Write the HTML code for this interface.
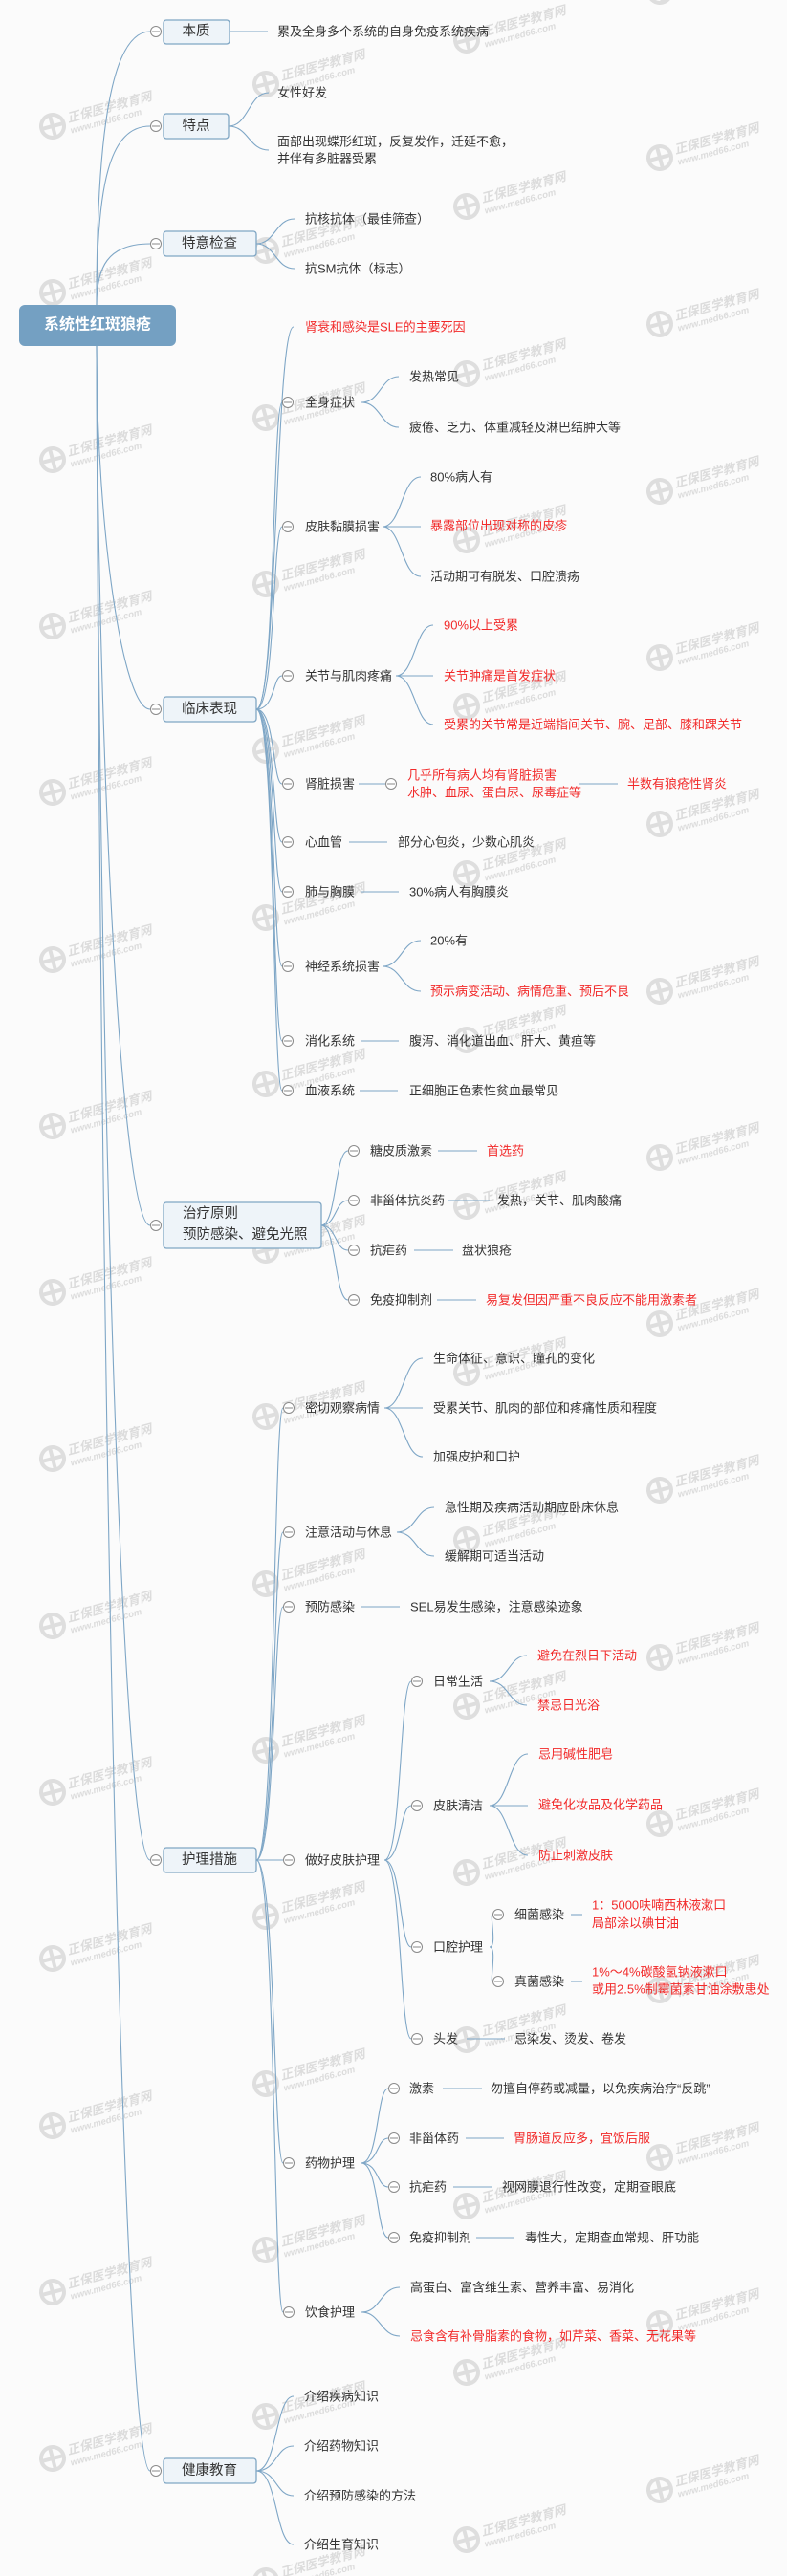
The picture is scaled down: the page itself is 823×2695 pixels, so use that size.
<!DOCTYPE html>
<html><head><meta charset="utf-8">
<style>
html,body{margin:0;padding:0;background:#fbfbfb;}
svg{display:block;}
text{font-family:"Liberation Sans","Noto Sans CJK SC",sans-serif;font-size:13px;fill:#333;dominant-baseline:central;}
.r{fill:#f22a2a;}
.bx{fill:#eef4f9;stroke:#7fa6c4;stroke-width:1.3;}
.bt{font-size:14.5px;text-anchor:middle;}
.ln{fill:none;stroke:#7ea6c6;stroke-width:1.1;}
.c{fill:#fff;stroke:#8a8a8a;stroke-width:1;}
.wm circle{fill:none;stroke:#dedede;stroke-width:4;}
.wm path{stroke:#dedede;stroke-width:4;fill:none;}
.wm text{fill:#dcdcdc;font-weight:bold;font-style:italic;}
.wm .w1{font-size:13px;}
.wm .w2{font-size:9.5px;}
</style></head>
<body>
<svg width="823" height="2695" viewBox="0 0 823 2695" xmlns="http://www.w3.org/2000/svg">
<defs></defs>
<!-- watermarks -->
<g class="wm">
<g transform="translate(55,132) rotate(-15)"><circle r="12"/><path d="M-12 0H12M0 -12V12"/><text class="w1" x="17" y="-4">正保医学教育网</text><text class="w2" x="17" y="10">www.med66.com</text></g>
<g transform="translate(55,306) rotate(-15)"><circle r="12"/><path d="M-12 0H12M0 -12V12"/><text class="w1" x="17" y="-4">正保医学教育网</text><text class="w2" x="17" y="10">www.med66.com</text></g>
<g transform="translate(55,481) rotate(-15)"><circle r="12"/><path d="M-12 0H12M0 -12V12"/><text class="w1" x="17" y="-4">正保医学教育网</text><text class="w2" x="17" y="10">www.med66.com</text></g>
<g transform="translate(55,655) rotate(-15)"><circle r="12"/><path d="M-12 0H12M0 -12V12"/><text class="w1" x="17" y="-4">正保医学教育网</text><text class="w2" x="17" y="10">www.med66.com</text></g>
<g transform="translate(55,829) rotate(-15)"><circle r="12"/><path d="M-12 0H12M0 -12V12"/><text class="w1" x="17" y="-4">正保医学教育网</text><text class="w2" x="17" y="10">www.med66.com</text></g>
<g transform="translate(55,1004) rotate(-15)"><circle r="12"/><path d="M-12 0H12M0 -12V12"/><text class="w1" x="17" y="-4">正保医学教育网</text><text class="w2" x="17" y="10">www.med66.com</text></g>
<g transform="translate(55,1178) rotate(-15)"><circle r="12"/><path d="M-12 0H12M0 -12V12"/><text class="w1" x="17" y="-4">正保医学教育网</text><text class="w2" x="17" y="10">www.med66.com</text></g>
<g transform="translate(55,1352) rotate(-15)"><circle r="12"/><path d="M-12 0H12M0 -12V12"/><text class="w1" x="17" y="-4">正保医学教育网</text><text class="w2" x="17" y="10">www.med66.com</text></g>
<g transform="translate(55,1526) rotate(-15)"><circle r="12"/><path d="M-12 0H12M0 -12V12"/><text class="w1" x="17" y="-4">正保医学教育网</text><text class="w2" x="17" y="10">www.med66.com</text></g>
<g transform="translate(55,1701) rotate(-15)"><circle r="12"/><path d="M-12 0H12M0 -12V12"/><text class="w1" x="17" y="-4">正保医学教育网</text><text class="w2" x="17" y="10">www.med66.com</text></g>
<g transform="translate(55,1875) rotate(-15)"><circle r="12"/><path d="M-12 0H12M0 -12V12"/><text class="w1" x="17" y="-4">正保医学教育网</text><text class="w2" x="17" y="10">www.med66.com</text></g>
<g transform="translate(55,2049) rotate(-15)"><circle r="12"/><path d="M-12 0H12M0 -12V12"/><text class="w1" x="17" y="-4">正保医学教育网</text><text class="w2" x="17" y="10">www.med66.com</text></g>
<g transform="translate(55,2224) rotate(-15)"><circle r="12"/><path d="M-12 0H12M0 -12V12"/><text class="w1" x="17" y="-4">正保医学教育网</text><text class="w2" x="17" y="10">www.med66.com</text></g>
<g transform="translate(55,2398) rotate(-15)"><circle r="12"/><path d="M-12 0H12M0 -12V12"/><text class="w1" x="17" y="-4">正保医学教育网</text><text class="w2" x="17" y="10">www.med66.com</text></g>
<g transform="translate(55,2572) rotate(-15)"><circle r="12"/><path d="M-12 0H12M0 -12V12"/><text class="w1" x="17" y="-4">正保医学教育网</text><text class="w2" x="17" y="10">www.med66.com</text></g>

<g transform="translate(278,88) rotate(-15)"><circle r="12"/><path d="M-12 0H12M0 -12V12"/><text class="w1" x="17" y="-4">正保医学教育网</text><text class="w2" x="17" y="10">www.med66.com</text></g>
<g transform="translate(278,262) rotate(-15)"><circle r="12"/><path d="M-12 0H12M0 -12V12"/><text class="w1" x="17" y="-4">正保医学教育网</text><text class="w2" x="17" y="10">www.med66.com</text></g>
<g transform="translate(278,437) rotate(-15)"><circle r="12"/><path d="M-12 0H12M0 -12V12"/><text class="w1" x="17" y="-4">正保医学教育网</text><text class="w2" x="17" y="10">www.med66.com</text></g>
<g transform="translate(278,611) rotate(-15)"><circle r="12"/><path d="M-12 0H12M0 -12V12"/><text class="w1" x="17" y="-4">正保医学教育网</text><text class="w2" x="17" y="10">www.med66.com</text></g>
<g transform="translate(278,785) rotate(-15)"><circle r="12"/><path d="M-12 0H12M0 -12V12"/><text class="w1" x="17" y="-4">正保医学教育网</text><text class="w2" x="17" y="10">www.med66.com</text></g>
<g transform="translate(278,960) rotate(-15)"><circle r="12"/><path d="M-12 0H12M0 -12V12"/><text class="w1" x="17" y="-4">正保医学教育网</text><text class="w2" x="17" y="10">www.med66.com</text></g>
<g transform="translate(278,1134) rotate(-15)"><circle r="12"/><path d="M-12 0H12M0 -12V12"/><text class="w1" x="17" y="-4">正保医学教育网</text><text class="w2" x="17" y="10">www.med66.com</text></g>
<g transform="translate(278,1308) rotate(-15)"><circle r="12"/><path d="M-12 0H12M0 -12V12"/><text class="w1" x="17" y="-4">正保医学教育网</text><text class="w2" x="17" y="10">www.med66.com</text></g>
<g transform="translate(278,1482) rotate(-15)"><circle r="12"/><path d="M-12 0H12M0 -12V12"/><text class="w1" x="17" y="-4">正保医学教育网</text><text class="w2" x="17" y="10">www.med66.com</text></g>
<g transform="translate(278,1657) rotate(-15)"><circle r="12"/><path d="M-12 0H12M0 -12V12"/><text class="w1" x="17" y="-4">正保医学教育网</text><text class="w2" x="17" y="10">www.med66.com</text></g>
<g transform="translate(278,1831) rotate(-15)"><circle r="12"/><path d="M-12 0H12M0 -12V12"/><text class="w1" x="17" y="-4">正保医学教育网</text><text class="w2" x="17" y="10">www.med66.com</text></g>
<g transform="translate(278,2005) rotate(-15)"><circle r="12"/><path d="M-12 0H12M0 -12V12"/><text class="w1" x="17" y="-4">正保医学教育网</text><text class="w2" x="17" y="10">www.med66.com</text></g>
<g transform="translate(278,2180) rotate(-15)"><circle r="12"/><path d="M-12 0H12M0 -12V12"/><text class="w1" x="17" y="-4">正保医学教育网</text><text class="w2" x="17" y="10">www.med66.com</text></g>
<g transform="translate(278,2354) rotate(-15)"><circle r="12"/><path d="M-12 0H12M0 -12V12"/><text class="w1" x="17" y="-4">正保医学教育网</text><text class="w2" x="17" y="10">www.med66.com</text></g>
<g transform="translate(278,2528) rotate(-15)"><circle r="12"/><path d="M-12 0H12M0 -12V12"/><text class="w1" x="17" y="-4">正保医学教育网</text><text class="w2" x="17" y="10">www.med66.com</text></g>
<g transform="translate(278,2700) rotate(-15)"><circle r="12"/><path d="M-12 0H12M0 -12V12"/><text class="w1" x="17" y="-4">正保医学教育网</text><text class="w2" x="17" y="10">www.med66.com</text></g>

<g transform="translate(488,42) rotate(-15)"><circle r="12"/><path d="M-12 0H12M0 -12V12"/><text class="w1" x="17" y="-4">正保医学教育网</text><text class="w2" x="17" y="10">www.med66.com</text></g>
<g transform="translate(488,216) rotate(-15)"><circle r="12"/><path d="M-12 0H12M0 -12V12"/><text class="w1" x="17" y="-4">正保医学教育网</text><text class="w2" x="17" y="10">www.med66.com</text></g>
<g transform="translate(488,391) rotate(-15)"><circle r="12"/><path d="M-12 0H12M0 -12V12"/><text class="w1" x="17" y="-4">正保医学教育网</text><text class="w2" x="17" y="10">www.med66.com</text></g>
<g transform="translate(488,565) rotate(-15)"><circle r="12"/><path d="M-12 0H12M0 -12V12"/><text class="w1" x="17" y="-4">正保医学教育网</text><text class="w2" x="17" y="10">www.med66.com</text></g>
<g transform="translate(488,739) rotate(-15)"><circle r="12"/><path d="M-12 0H12M0 -12V12"/><text class="w1" x="17" y="-4">正保医学教育网</text><text class="w2" x="17" y="10">www.med66.com</text></g>
<g transform="translate(488,914) rotate(-15)"><circle r="12"/><path d="M-12 0H12M0 -12V12"/><text class="w1" x="17" y="-4">正保医学教育网</text><text class="w2" x="17" y="10">www.med66.com</text></g>
<g transform="translate(488,1088) rotate(-15)"><circle r="12"/><path d="M-12 0H12M0 -12V12"/><text class="w1" x="17" y="-4">正保医学教育网</text><text class="w2" x="17" y="10">www.med66.com</text></g>
<g transform="translate(488,1262) rotate(-15)"><circle r="12"/><path d="M-12 0H12M0 -12V12"/><text class="w1" x="17" y="-4">正保医学教育网</text><text class="w2" x="17" y="10">www.med66.com</text></g>
<g transform="translate(488,1436) rotate(-15)"><circle r="12"/><path d="M-12 0H12M0 -12V12"/><text class="w1" x="17" y="-4">正保医学教育网</text><text class="w2" x="17" y="10">www.med66.com</text></g>
<g transform="translate(488,1611) rotate(-15)"><circle r="12"/><path d="M-12 0H12M0 -12V12"/><text class="w1" x="17" y="-4">正保医学教育网</text><text class="w2" x="17" y="10">www.med66.com</text></g>
<g transform="translate(488,1785) rotate(-15)"><circle r="12"/><path d="M-12 0H12M0 -12V12"/><text class="w1" x="17" y="-4">正保医学教育网</text><text class="w2" x="17" y="10">www.med66.com</text></g>
<g transform="translate(488,1959) rotate(-15)"><circle r="12"/><path d="M-12 0H12M0 -12V12"/><text class="w1" x="17" y="-4">正保医学教育网</text><text class="w2" x="17" y="10">www.med66.com</text></g>
<g transform="translate(488,2134) rotate(-15)"><circle r="12"/><path d="M-12 0H12M0 -12V12"/><text class="w1" x="17" y="-4">正保医学教育网</text><text class="w2" x="17" y="10">www.med66.com</text></g>
<g transform="translate(488,2308) rotate(-15)"><circle r="12"/><path d="M-12 0H12M0 -12V12"/><text class="w1" x="17" y="-4">正保医学教育网</text><text class="w2" x="17" y="10">www.med66.com</text></g>
<g transform="translate(488,2482) rotate(-15)"><circle r="12"/><path d="M-12 0H12M0 -12V12"/><text class="w1" x="17" y="-4">正保医学教育网</text><text class="w2" x="17" y="10">www.med66.com</text></g>
<g transform="translate(488,2657) rotate(-15)"><circle r="12"/><path d="M-12 0H12M0 -12V12"/><text class="w1" x="17" y="-4">正保医学教育网</text><text class="w2" x="17" y="10">www.med66.com</text></g>

<g transform="translate(690,-9) rotate(-15)"><circle r="12"/><path d="M-12 0H12M0 -12V12"/><text class="w1" x="17" y="-4">正保医学教育网</text><text class="w2" x="17" y="10">www.med66.com</text></g>
<g transform="translate(690,165) rotate(-15)"><circle r="12"/><path d="M-12 0H12M0 -12V12"/><text class="w1" x="17" y="-4">正保医学教育网</text><text class="w2" x="17" y="10">www.med66.com</text></g>
<g transform="translate(690,339) rotate(-15)"><circle r="12"/><path d="M-12 0H12M0 -12V12"/><text class="w1" x="17" y="-4">正保医学教育网</text><text class="w2" x="17" y="10">www.med66.com</text></g>
<g transform="translate(690,514) rotate(-15)"><circle r="12"/><path d="M-12 0H12M0 -12V12"/><text class="w1" x="17" y="-4">正保医学教育网</text><text class="w2" x="17" y="10">www.med66.com</text></g>
<g transform="translate(690,688) rotate(-15)"><circle r="12"/><path d="M-12 0H12M0 -12V12"/><text class="w1" x="17" y="-4">正保医学教育网</text><text class="w2" x="17" y="10">www.med66.com</text></g>
<g transform="translate(690,862) rotate(-15)"><circle r="12"/><path d="M-12 0H12M0 -12V12"/><text class="w1" x="17" y="-4">正保医学教育网</text><text class="w2" x="17" y="10">www.med66.com</text></g>
<g transform="translate(690,1037) rotate(-15)"><circle r="12"/><path d="M-12 0H12M0 -12V12"/><text class="w1" x="17" y="-4">正保医学教育网</text><text class="w2" x="17" y="10">www.med66.com</text></g>
<g transform="translate(690,1211) rotate(-15)"><circle r="12"/><path d="M-12 0H12M0 -12V12"/><text class="w1" x="17" y="-4">正保医学教育网</text><text class="w2" x="17" y="10">www.med66.com</text></g>
<g transform="translate(690,1385) rotate(-15)"><circle r="12"/><path d="M-12 0H12M0 -12V12"/><text class="w1" x="17" y="-4">正保医学教育网</text><text class="w2" x="17" y="10">www.med66.com</text></g>
<g transform="translate(690,1559) rotate(-15)"><circle r="12"/><path d="M-12 0H12M0 -12V12"/><text class="w1" x="17" y="-4">正保医学教育网</text><text class="w2" x="17" y="10">www.med66.com</text></g>
<g transform="translate(690,1734) rotate(-15)"><circle r="12"/><path d="M-12 0H12M0 -12V12"/><text class="w1" x="17" y="-4">正保医学教育网</text><text class="w2" x="17" y="10">www.med66.com</text></g>
<g transform="translate(690,1908) rotate(-15)"><circle r="12"/><path d="M-12 0H12M0 -12V12"/><text class="w1" x="17" y="-4">正保医学教育网</text><text class="w2" x="17" y="10">www.med66.com</text></g>
<g transform="translate(690,2082) rotate(-15)"><circle r="12"/><path d="M-12 0H12M0 -12V12"/><text class="w1" x="17" y="-4">正保医学教育网</text><text class="w2" x="17" y="10">www.med66.com</text></g>
<g transform="translate(690,2257) rotate(-15)"><circle r="12"/><path d="M-12 0H12M0 -12V12"/><text class="w1" x="17" y="-4">正保医学教育网</text><text class="w2" x="17" y="10">www.med66.com</text></g>
<g transform="translate(690,2431) rotate(-15)"><circle r="12"/><path d="M-12 0H12M0 -12V12"/><text class="w1" x="17" y="-4">正保医学教育网</text><text class="w2" x="17" y="10">www.med66.com</text></g>
<g transform="translate(690,2605) rotate(-15)"><circle r="12"/><path d="M-12 0H12M0 -12V12"/><text class="w1" x="17" y="-4">正保医学教育网</text><text class="w2" x="17" y="10">www.med66.com</text></g>
</g>

<!-- root connectors -->
<g class="ln">
<path d="M101 319 C101 130 118 33 157 33"/>
<path d="M101 319 C101 190 115 132 157 132"/>
<path d="M101 319 C101 280 112 255 157 255"/>
<path d="M101 362 C101 552 128 742 157 742"/>
<path d="M101 362 C103 822 128 1282 157 1282"/>
<path d="M101 362 C104 1154 128 1946 157 1946"/>
<path d="M101 362 C105 1474 128 2585 157 2585"/>
</g>

<!-- root -->
<rect x="20" y="319" width="164" height="43" rx="6" fill="#74a0c2"/>
<text x="102" y="340" style="fill:#fff;font-weight:bold;font-size:16px;text-anchor:middle;">系统性红斑狼疮</text>

<!-- 本质 -->
<rect class="bx" x="171" y="21" width="69" height="25" rx="3"/>
<text class="bt" x="205" y="33">本质</text>
<path class="ln" d="M240 33 H280"/>
<text x="290" y="33">累及全身多个系统的自身免疫系统疾病</text>

<!-- 特点 -->
<rect class="bx" x="171" y="119" width="68" height="26" rx="3"/>
<text class="bt" x="205" y="132">特点</text>
<g class="ln">
<path d="M239 132 C260 132 260 97 281 97"/>
<path d="M239 132 C260 132 260 157 281 157"/>
</g>
<text x="290" y="97">女性好发</text>
<text x="290" y="148">面部出现蝶形红斑，反复发作，迁延不愈，</text>
<text x="290" y="166">并伴有多脏器受累</text>

<!-- 特意检查 -->
<rect class="bx" x="171" y="242" width="97" height="26" rx="3"/>
<text class="bt" x="219" y="255">特意检查</text>
<g class="ln">
<path d="M268 255 C288 255 288 229 308 229"/>
<path d="M268 255 C288 255 288 281 308 281"/>
</g>
<text x="319" y="229">抗核抗体（最佳筛查）</text>
<text x="319" y="281">抗SM抗体（标志）</text>

<!-- 临床表现 -->
<rect class="bx" x="171" y="729" width="97" height="26" rx="3"/>
<text class="bt" x="219" y="742">临床表现</text>
<g class="ln">
<path d="M268 742 C290 742 288 342 307 342"/>
<path d="M268 742 C288 742 285 421 295 421"/>
<path d="M268 742 C288 742 285 551 295 551"/>
<path d="M268 742 C288 742 285 707 295 707"/>
<path d="M268 742 C288 742 285 820 295 820"/>
<path d="M268 742 C288 742 285 881 295 881"/>
<path d="M268 742 C288 742 285 933 295 933"/>
<path d="M268 742 C288 742 285 1011 295 1011"/>
<path d="M268 742 C288 742 285 1089 295 1089"/>
<path d="M268 742 C288 742 285 1141 295 1141"/>
</g>
<text class="r" x="319" y="342">肾衰和感染是SLE的主要死因</text>

<text x="319" y="421">全身症状</text>
<g class="ln"><path d="M378 421 C398 421 398 394 417 394"/><path d="M378 421 C398 421 398 447 417 447"/></g>
<text x="428" y="394">发热常见</text>
<text x="428" y="447">疲倦、乏力、体重减轻及淋巴结肿大等</text>

<text x="319" y="551">皮肤黏膜损害</text>
<g class="ln"><path d="M400 551 C420 551 420 499 440 499"/><path d="M400 551 H440"/><path d="M400 551 C420 551 420 603 440 603"/></g>
<text x="450" y="499">80%病人有</text>
<text class="r" x="450" y="550">暴露部位出现对称的皮疹</text>
<text x="450" y="603">活动期可有脱发、口腔溃疡</text>

<text x="319" y="707">关节与肌肉疼痛</text>
<g class="ln"><path d="M414 707 C434 707 434 654 453 654"/><path d="M414 707 H453"/><path d="M414 707 C434 707 434 758 453 758"/></g>
<text class="r" x="464" y="654">90%以上受累</text>
<text class="r" x="464" y="707">关节肿痛是首发症状</text>
<text class="r" x="464" y="758">受累的关节常是近端指间关节、腕、足部、膝和踝关节</text>

<text x="319" y="820">肾脏损害</text>
<path class="ln" d="M375 820 H403"/>
<circle class="c" cx="409" cy="820" r="5.5"/><path d="M405 820H413" stroke="#888"/>
<text class="r" x="426" y="811">几乎所有病人均有肾脏损害</text>
<text class="r" x="426" y="829">水肿、血尿、蛋白尿、尿毒症等</text>
<path class="ln" d="M606 820 H646"/>
<text class="r" x="656" y="820">半数有狼疮性肾炎</text>

<text x="319" y="881">心血管</text>
<path class="ln" d="M365 881 H405"/>
<text x="416" y="881">部分心包炎，少数心肌炎</text>

<text x="319" y="933">肺与胸膜</text>
<path class="ln" d="M377 933 H417"/>
<text x="428" y="933">30%病人有胸膜炎</text>

<text x="319" y="1011">神经系统损害</text>
<g class="ln"><path d="M400 1011 C420 1011 420 984 440 984"/><path d="M400 1011 C420 1011 420 1037 440 1037"/></g>
<text x="450" y="984">20%有</text>
<text class="r" x="450" y="1037">预示病变活动、病情危重、预后不良</text>

<text x="319" y="1089">消化系统</text>
<path class="ln" d="M377 1089 H417"/>
<text x="428" y="1089">腹泻、消化道出血、肝大、黄疸等</text>

<text x="319" y="1141">血液系统</text>
<path class="ln" d="M376 1141 H416"/>
<text x="428" y="1141">正细胞正色素性贫血最常见</text>

<!-- 治疗原则 -->
<rect class="bx" x="171" y="1258" width="165" height="48" rx="3"/>
<text x="191" y="1270" style="font-size:14.5px">治疗原则</text>
<text x="191" y="1292" style="font-size:14.5px">预防感染、避免光照</text>
<g class="ln">
<path d="M336 1282 C352 1282 350 1204 364 1204"/>
<path d="M336 1282 C352 1282 350 1256 364 1256"/>
<path d="M336 1282 C352 1282 350 1308 364 1308"/>
<path d="M336 1282 C352 1282 350 1360 364 1360"/>
</g>
<text x="387" y="1204">糖皮质激素</text>
<path class="ln" d="M458 1204 H499"/>
<text class="r" x="509" y="1204">首选药</text>
<text x="387" y="1256">非甾体抗炎药</text>
<path class="ln" d="M469 1256 H512"/>
<text x="520" y="1256">发热，关节、肌肉酸痛</text>
<text x="387" y="1308">抗疟药</text>
<path class="ln" d="M433 1308 H474"/>
<text x="483" y="1308">盘状狼疮</text>
<text x="387" y="1360">免疫抑制剂</text>
<path class="ln" d="M457 1360 H498"/>
<text class="r" x="508" y="1360">易复发但因严重不良反应不能用激素者</text>

<!-- 护理措施 -->
<rect class="bx" x="171" y="1933" width="97" height="26" rx="3"/>
<text class="bt" x="219" y="1946">护理措施</text>
<g class="ln">
<path d="M268 1946 C288 1946 286 1473 296 1473"/>
<path d="M268 1946 C288 1946 286 1603 296 1603"/>
<path d="M268 1946 C288 1946 286 1681 296 1681"/>
<path d="M268 1946 H296"/>
<path d="M268 1946 C288 1946 286 2263 296 2263"/>
<path d="M268 1946 C288 1946 286 2419 296 2419"/>
</g>
<text x="319" y="1473">密切观察病情</text>
<g class="ln"><path d="M402 1473 C422 1473 422 1421 442 1421"/><path d="M402 1473 H442"/><path d="M402 1473 C422 1473 422 1524 442 1524"/></g>
<text x="453" y="1421">生命体征、意识、瞳孔的变化</text>
<text x="453" y="1473">受累关节、肌肉的部位和疼痛性质和程度</text>
<text x="453" y="1524">加强皮护和口护</text>

<text x="319" y="1603">注意活动与休息</text>
<g class="ln"><path d="M415 1603 C435 1603 435 1577 454 1577"/><path d="M415 1603 C435 1603 435 1628 454 1628"/></g>
<text x="465" y="1577">急性期及疾病活动期应卧床休息</text>
<text x="465" y="1628">缓解期可适当活动</text>

<text x="319" y="1681">预防感染</text>
<path class="ln" d="M378 1681 H418"/>
<text x="429" y="1681">SEL易发生感染，注意感染迹象</text>

<text x="319" y="1946">做好皮肤护理</text>
<g class="ln">
<path d="M402 1946 C420 1946 418 1759 430 1759"/>
<path d="M402 1946 C420 1946 418 1889 430 1889"/>
<path d="M402 1946 C420 1946 418 2037 430 2037"/>
<path d="M402 1946 C420 1946 418 2133 430 2133"/>
</g>
<text x="453" y="1759">日常生活</text>
<g class="ln"><path d="M512 1759 C532 1759 532 1732 551 1732"/><path d="M512 1759 C532 1759 532 1784 551 1784"/></g>
<text class="r" x="562" y="1732">避免在烈日下活动</text>
<text class="r" x="562" y="1784">禁忌日光浴</text>

<text x="453" y="1889">皮肤清洁</text>
<g class="ln"><path d="M512 1889 C532 1889 532 1835 552 1835"/><path d="M512 1889 H552"/><path d="M512 1889 C532 1889 532 1941 552 1941"/></g>
<text class="r" x="563" y="1835">忌用碱性肥皂</text>
<text class="r" x="563" y="1888">避免化妆品及化学药品</text>
<text class="r" x="563" y="1941">防止刺激皮肤</text>

<text x="453" y="2037">口腔护理</text>
<g class="ln"><path d="M512 2037 C520 2037 512 2003 515 2003"/><path d="M512 2037 C520 2037 512 2073 515 2073"/></g>
<text x="538" y="2003">细菌感染</text>
<path class="ln" d="M597 2003 H609"/>
<text class="r" x="619" y="1993">1：5000呋喃西林液漱口</text>
<text class="r" x="619" y="2012">局部涂以碘甘油</text>
<text x="538" y="2073">真菌感染</text>
<path class="ln" d="M597 2073 H609"/>
<text class="r" x="619" y="2063">1%～4%碳酸氢钠液漱口</text>
<text class="r" x="619" y="2081">或用2.5%制霉菌素甘油涂敷患处</text>

<text x="453" y="2133">头发</text>
<path class="ln" d="M488 2133 H528"/>
<text x="538" y="2133">忌染发、烫发、卷发</text>

<text x="319" y="2263">药物护理</text>
<g class="ln">
<path d="M378 2263 C396 2263 394 2185 406 2185"/>
<path d="M378 2263 C396 2263 394 2237 406 2237"/>
<path d="M378 2263 C396 2263 394 2288 406 2288"/>
<path d="M378 2263 C396 2263 394 2341 406 2341"/>
</g>
<text x="428" y="2185">激素</text>
<path class="ln" d="M463 2185 H504"/>
<text x="513" y="2185">勿擅自停药或减量，以免疾病治疗“反跳”</text>
<text x="428" y="2237">非甾体药</text>
<path class="ln" d="M487 2237 H527"/>
<text class="r" x="537" y="2237">胃肠道反应多，宜饭后服</text>
<text x="428" y="2288">抗疟药</text>
<path class="ln" d="M474 2288 H514"/>
<text x="525" y="2288">视网膜退行性改变，定期查眼底</text>
<text x="428" y="2341">免疫抑制剂</text>
<path class="ln" d="M498 2341 H538"/>
<text x="549" y="2341">毒性大，定期查血常规、肝功能</text>

<text x="319" y="2419">饮食护理</text>
<g class="ln"><path d="M378 2419 C398 2419 398 2393 418 2393"/><path d="M378 2419 C398 2419 398 2444 418 2444"/></g>
<text x="429" y="2393">高蛋白、富含维生素、营养丰富、易消化</text>
<text class="r" x="429" y="2444">忌食含有补骨脂素的食物，如芹菜、香菜、无花果等</text>

<!-- 健康教育 -->
<rect class="bx" x="171" y="2572" width="97" height="26" rx="3"/>
<text class="bt" x="219" y="2585">健康教育</text>
<g class="ln">
<path d="M268 2585 C290 2585 288 2507 307 2507"/>
<path d="M268 2585 C290 2585 288 2559 307 2559"/>
<path d="M268 2585 C290 2585 288 2611 307 2611"/>
<path d="M268 2585 C290 2585 288 2662 307 2662"/>
</g>
<text x="318" y="2507">介绍疾病知识</text>
<text x="318" y="2559">介绍药物知识</text>
<text x="318" y="2611">介绍预防感染的方法</text>
<text x="318" y="2662">介绍生育知识</text>

<!-- collapse circles -->
<g>
<circle class="c" cx="163" cy="33" r="5.5"/><circle class="c" cx="163" cy="132" r="5.5"/><circle class="c" cx="163" cy="255" r="5.5"/>
<circle class="c" cx="163" cy="742" r="5.5"/><circle class="c" cx="163" cy="1282" r="5.5"/><circle class="c" cx="163" cy="1946" r="5.5"/><circle class="c" cx="163" cy="2585" r="5.5"/>
<circle class="c" cx="301" cy="421" r="5.5"/><circle class="c" cx="301" cy="551" r="5.5"/><circle class="c" cx="301" cy="707" r="5.5"/><circle class="c" cx="301" cy="820" r="5.5"/><circle class="c" cx="301" cy="881" r="5.5"/><circle class="c" cx="301" cy="933" r="5.5"/><circle class="c" cx="301" cy="1011" r="5.5"/><circle class="c" cx="301" cy="1089" r="5.5"/><circle class="c" cx="301" cy="1141" r="5.5"/>
<circle class="c" cx="370" cy="1204" r="5.5"/><circle class="c" cx="370" cy="1256" r="5.5"/><circle class="c" cx="370" cy="1308" r="5.5"/><circle class="c" cx="370" cy="1360" r="5.5"/>
<circle class="c" cx="302" cy="1473" r="5.5"/><circle class="c" cx="302" cy="1603" r="5.5"/><circle class="c" cx="302" cy="1681" r="5.5"/><circle class="c" cx="302" cy="1946" r="5.5"/><circle class="c" cx="302" cy="2263" r="5.5"/><circle class="c" cx="302" cy="2419" r="5.5"/>
<circle class="c" cx="436" cy="1759" r="5.5"/><circle class="c" cx="436" cy="1889" r="5.5"/><circle class="c" cx="436" cy="2037" r="5.5"/><circle class="c" cx="436" cy="2133" r="5.5"/>
<circle class="c" cx="521" cy="2003" r="5.5"/><circle class="c" cx="521" cy="2073" r="5.5"/>
<circle class="c" cx="412" cy="2185" r="5.5"/><circle class="c" cx="412" cy="2237" r="5.5"/><circle class="c" cx="412" cy="2288" r="5.5"/><circle class="c" cx="412" cy="2341" r="5.5"/>
</g>
<g stroke="#888" stroke-width="1">
<path d="M159 33H167M159 132H167M159 255H167M159 742H167M159 1282H167M159 1946H167M159 2585H167"/>
<path d="M297 421H305M297 551H305M297 707H305M297 820H305M297 881H305M297 933H305M297 1011H305M297 1089H305M297 1141H305"/>
<path d="M366 1204H374M366 1256H374M366 1308H374M366 1360H374"/>
<path d="M298 1473H306M298 1603H306M298 1681H306M298 1946H306M298 2263H306M298 2419H306"/>
<path d="M432 1759H440M432 1889H440M432 2037H440M432 2133H440"/>
<path d="M517 2003H525M517 2073H525"/>
<path d="M408 2185H416M408 2237H416M408 2288H416M408 2341H416"/>
</g>
</svg>
</body></html>
